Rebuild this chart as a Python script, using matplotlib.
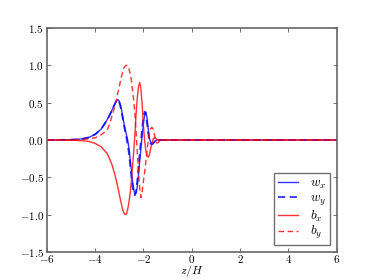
import matplotlib
matplotlib.use("Agg")
import matplotlib.pyplot as plt
from matplotlib.ticker import FormatStrFormatter

plt.rcParams['mathtext.fontset'] = 'cm'
plt.rcParams['font.family'] = 'serif'
plt.rcParams['font.serif'] = ['DejaVu Serif']

# z/H positions where values were read
z = [-6.0, -5.5, -5.0, -4.75, -4.5, -4.25, -4.0, -3.75, -3.5, -3.4, -3.3, -3.2,
     -3.15, -3.1, -3.05, -3.0, -2.95, -2.9, -2.85, -2.8, -2.75, -2.7, -2.65,
     -2.6, -2.55, -2.5, -2.45, -2.4, -2.35, -2.3, -2.25, -2.2, -2.15, -2.1,
     -2.05, -2.0, -1.95, -1.9, -1.85, -1.8, -1.75, -1.7, -1.65, -1.6, -1.55,
     -1.5, -1.45, -1.4, -1.35, -1.3, -1.2, -1.0, 0.0, 6.0]

w_x = [0.0, 0.001, 0.004, 0.008, 0.017, 0.035, 0.075, 0.145, 0.27, 0.33, 0.40, 0.47,
       0.505, 0.53, 0.54, 0.52, 0.47, 0.40, 0.31, 0.22, 0.14, 0.07, 0.0,
       -0.10, -0.24, -0.40, -0.55, -0.66, -0.72, -0.71, -0.62, -0.46, -0.28, -0.11,
       0.06, 0.21, 0.33, 0.375, 0.30, 0.15, 0.03, -0.03, -0.055, -0.05, -0.03,
       -0.012, 0.0, 0.004, 0.002, 0.0, 0.0, 0.0, 0.0, 0.0]

w_y = [0.0, 0.001, 0.004, 0.008, 0.017, 0.035, 0.075, 0.145, 0.27, 0.33, 0.40, 0.47,
       0.505, 0.53, 0.54, 0.51, 0.45, 0.37, 0.28, 0.19, 0.11, 0.03, -0.06,
       -0.17, -0.32, -0.48, -0.62, -0.72, -0.74, -0.68, -0.54, -0.36, -0.18, -0.01,
       0.16, 0.30, 0.38, 0.35, 0.23, 0.09, 0.0, -0.05, -0.06, -0.045, -0.025,
       -0.008, 0.002, 0.004, 0.001, 0.0, 0.0, 0.0, 0.0, 0.0]

b_x = [0.0, -0.001, -0.003, -0.006, -0.01, -0.02, -0.045, -0.09, -0.18, -0.25, -0.33, -0.44,
       -0.50, -0.57, -0.64, -0.72, -0.80, -0.87, -0.94, -0.98, -1.0, -0.99, -0.93,
       -0.84, -0.72, -0.56, -0.36, -0.15, 0.07, 0.36, 0.57, 0.72, 0.77, 0.68,
       0.47, 0.20, 0.0, -0.14, -0.21, -0.23, -0.20, -0.12, -0.04, 0.01, 0.03,
       0.025, 0.01, 0.0, -0.003, 0.0, 0.0, 0.0, 0.0, 0.0]

b_y = [0.0, 0.001, 0.002, 0.004, 0.008, 0.015, 0.03, 0.07, 0.13, 0.21, 0.32, 0.43,
       0.50, 0.57, 0.64, 0.71, 0.79, 0.86, 0.92, 0.97, 0.99, 1.0, 1.0,
       0.96, 0.89, 0.81, 0.67, 0.53, 0.35, 0.10, -0.17, -0.42, -0.65, -0.77,
       -0.69, -0.56, -0.44, -0.30, -0.15, 0.0, 0.10, 0.15, 0.17, 0.15, 0.08,
       0.01, -0.04, -0.04, -0.02, -0.005, 0.0, 0.0, 0.0, 0.0]

fig = plt.figure(figsize=(3.74, 2.8), dpi=100)
ax = fig.add_axes([0.125, 0.1, 0.775, 0.8])

ax.plot(z, w_x, color='b', lw=1.0, alpha=0.8, label=r'$w_x$')
ax.plot(z, w_y, color='b', lw=1.3, ls='--', dashes=(4, 2.5), alpha=0.8, label=r'$w_y$')
ax.plot(z, b_x, color='r', lw=1.0, alpha=0.8, label=r'$b_x$')
ax.plot(z, b_y, color='r', lw=1.0, ls='--', dashes=(4, 2.5), alpha=0.8, label=r'$b_y$')

ax.set_xlim(-6, 6)
ax.set_ylim(-1.5, 1.5)
ax.set_xticks([-6, -4, -2, 0, 2, 4, 6])
ax.set_yticks([-1.5, -1.0, -0.5, 0.0, 0.5, 1.0, 1.5])
ax.xaxis.set_major_formatter(FormatStrFormatter(r'$%d$'))
ax.yaxis.set_major_formatter(FormatStrFormatter(r'$%.1f$'))
ax.tick_params(direction='in', top=True, right=True, labelsize=8,
               length=3, width=0.6, color='0.35', pad=2)
ax.tick_params(axis='x', pad=0.5)
for s in ax.spines.values():
    s.set_color('0.4')
    s.set_linewidth(1.2)
ax.set_xlabel(r'$z/H$', fontsize=8.5)
ax.xaxis.set_label_coords(0.5, -0.05)

leg = ax.legend(loc='lower right', fontsize=9.5, handlelength=1.5,
                handletextpad=0.9, labelspacing=0.05, borderpad=0.3,
                fancybox=False, borderaxespad=0.5)
leg.get_frame().set_edgecolor('0.3')
leg.get_frame().set_linewidth(1.0)

fig.savefig('out.png', dpi=100)
